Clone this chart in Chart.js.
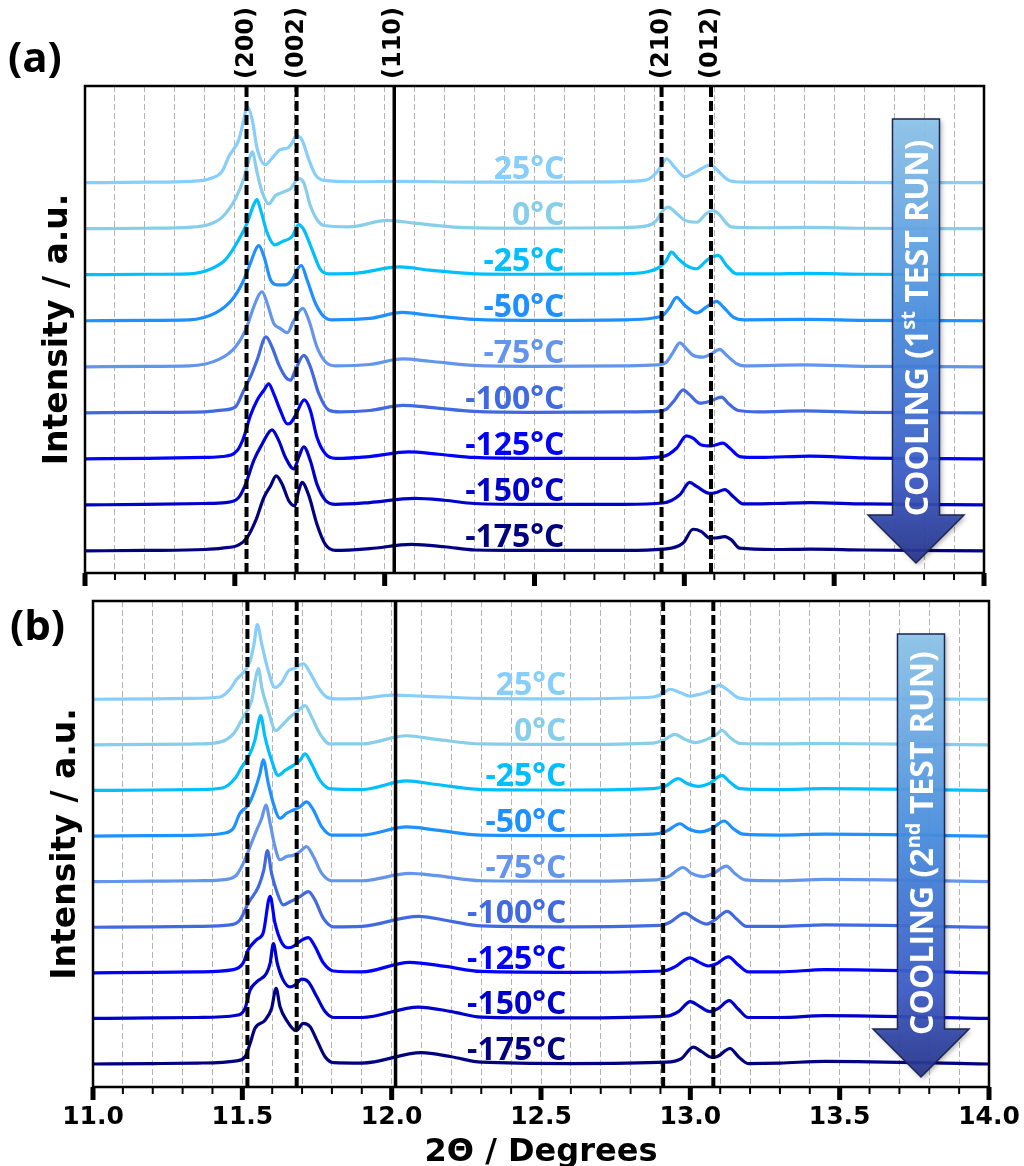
<!DOCTYPE html>
<html>
<head>
<meta charset="utf-8">
<script src="https://cdn.jsdelivr.net/npm/chart.js@4.4.1/dist/chart.umd.min.js"></script>
<style>
  body { margin: 0; background: #fff; }
  #wrap { position: relative; width: 1024px; height: 1166px; overflow: hidden; }
  canvas { position: absolute; left: 0; }
</style>
</head>
<body>
<div id="wrap">
  <canvas id="panelA" width="1024" height="590" style="top:0"></canvas>
  <canvas id="panelB" width="1024" height="576" style="top:590px"></canvas>
</div>
<script>
// labels, colours and reflections
const temps = ['25°C', '0°C', '-25°C', '-50°C', '-75°C', '-100°C', '-125°C', '-150°C', '-175°C'];
const lineColors = ['#87cefa', '#87ceeb', '#00bfff', '#1e90ff', '#6495ed', '#4169e1', '#0000ff', '#0000cd', '#000080'];
const hkl = ['(200)', '(002)', '(110)', '(210)', '(012)'];
const refsA = [11.539, 11.706, 12.032, 12.924, 13.089];
const refsB = [11.517, 11.682, 12.013, 12.909, 13.077];

// 1st test run: [2theta, intensity above its own baseline]
const a25 = [[11.0,0],[11.2,0.01],[11.35,0.03],[11.413,0.08],[11.458,0.25],[11.48,0.57],[11.513,0.93],[11.53,1.37],[11.541,1.66],[11.558,1.37],[11.574,0.75],[11.602,0.39],[11.625,0.54],[11.652,0.72],[11.675,0.75],[11.691,0.86],[11.704,1.02],[11.724,0.93],[11.747,0.50],[11.769,0.17],[11.797,0.05],[11.9,0.02],[12.05,0.03],[12.3,0.01],[12.6,0.01],[12.78,0.02],[12.874,0.06],[12.907,0.22],[12.929,0.43],[12.94,0.52],[12.968,0.33],[13.002,0.13],[13.035,0.22],[13.074,0.36],[13.09,0.38],[13.107,0.29],[13.152,0.04],[13.2,0.01],[13.4,0.01],[13.7,0.0],[14.0,0.0]];
const a0 = [[11.0,0],[11.2,0.01],[11.35,0.03],[11.413,0.09],[11.458,0.25],[11.502,0.65],[11.53,1.09],[11.547,1.49],[11.558,1.67],[11.574,1.23],[11.591,0.80],[11.613,0.54],[11.636,0.72],[11.663,0.80],[11.686,0.87],[11.713,1.09],[11.73,1.0],[11.752,0.5],[11.774,0.2],[11.797,0.07],[11.88,0.04],[12.01,0.18],[12.1,0.12],[12.25,0.03],[12.5,0.01],[12.78,0.02],[12.874,0.06],[12.907,0.18],[12.924,0.36],[12.946,0.47],[12.974,0.33],[13.002,0.18],[13.041,0.14],[13.074,0.33],[13.096,0.40],[13.113,0.33],[13.157,0.04],[13.25,0.02],[13.4,0.03],[13.6,0.01],[14.0,0.0]];
const aM25 = [[11.0,0],[11.2,0.01],[11.347,0.02],[11.413,0.11],[11.469,0.33],[11.513,0.76],[11.541,1.12],[11.563,1.52],[11.574,1.63],[11.586,1.41],[11.608,0.91],[11.633,0.65],[11.658,0.72],[11.691,0.83],[11.713,1.09],[11.73,0.98],[11.758,0.54],[11.786,0.11],[11.813,0.02],[11.9,0.03],[12.05,0.17],[12.15,0.10],[12.3,0.02],[12.5,0.01],[12.78,0.02],[12.874,0.06],[12.918,0.17],[12.94,0.31],[12.957,0.49],[12.979,0.35],[13.007,0.20],[13.041,0.13],[13.074,0.31],[13.09,0.38],[13.113,0.42],[13.141,0.20],[13.174,0.02],[13.3,0.02],[13.4,0.03],[13.6,0.01],[14.0,0.0]];
const aM50 = [[11.0,0],[11.2,0.01],[11.347,0.02],[11.436,0.17],[11.491,0.46],[11.525,0.82],[11.552,1.25],[11.569,1.54],[11.58,1.63],[11.597,1.40],[11.619,0.89],[11.641,0.78],[11.669,0.78],[11.691,0.89],[11.708,1.11],[11.722,1.20],[11.741,0.89],[11.769,0.38],[11.797,0.09],[11.825,0.02],[11.95,0.05],[12.06,0.18],[12.15,0.12],[12.3,0.03],[12.5,0.01],[12.8,0.02],[12.896,0.06],[12.929,0.12],[12.952,0.30],[12.974,0.51],[13.002,0.33],[13.041,0.17],[13.074,0.30],[13.107,0.42],[13.13,0.30],[13.163,0.08],[13.2,0.02],[13.4,0.03],[13.6,0.01],[14.0,0.0]];
const aM75 = [[11.0,0],[11.2,0.01],[11.347,0.02],[11.447,0.16],[11.502,0.43],[11.536,0.80],[11.563,1.30],[11.58,1.56],[11.591,1.63],[11.608,1.38],[11.63,0.94],[11.652,0.83],[11.675,0.74],[11.697,1.01],[11.727,1.27],[11.747,1.01],[11.774,0.43],[11.802,0.11],[11.836,0.02],[11.95,0.05],[12.06,0.17],[12.15,0.12],[12.3,0.03],[12.5,0.01],[12.8,0.02],[12.907,0.04],[12.94,0.10],[12.963,0.32],[12.985,0.52],[13.007,0.39],[13.029,0.25],[13.063,0.21],[13.09,0.28],[13.118,0.38],[13.141,0.25],[13.174,0.07],[13.2,0.02],[13.4,0.04],[13.6,0.01],[14.0,0.0]];
const aM100 = [[11.0,0],[11.2,0.01],[11.4,0.02],[11.458,0.06],[11.502,0.13],[11.53,0.49],[11.552,0.78],[11.574,1.14],[11.604,1.65],[11.624,1.43],[11.647,1.04],[11.669,0.78],[11.686,0.71],[11.702,0.93],[11.73,1.25],[11.752,1.0],[11.78,0.42],[11.813,0.06],[11.85,0.02],[11.95,0.05],[12.06,0.16],[12.15,0.12],[12.3,0.03],[12.5,0.01],[12.8,0.02],[12.907,0.03],[12.94,0.08],[12.968,0.28],[12.996,0.50],[13.018,0.39],[13.052,0.21],[13.085,0.25],[13.124,0.34],[13.146,0.21],[13.18,0.05],[13.25,0.02],[13.4,0.04],[13.6,0.01],[14.0,0.0]];
const aM125 = [[11.0,0],[11.2,0.01],[11.4,0.03],[11.458,0.05],[11.508,0.18],[11.53,0.47],[11.552,0.94],[11.574,1.27],[11.597,1.49],[11.613,1.63],[11.63,1.41],[11.652,1.05],[11.675,0.76],[11.686,0.78],[11.702,0.94],[11.732,1.28],[11.752,1.05],[11.774,0.47],[11.802,0.11],[11.836,0.01],[11.95,0.05],[12.08,0.15],[12.18,0.10],[12.3,0.03],[12.5,0.01],[12.8,0.01],[12.929,0.05],[12.974,0.23],[13.007,0.50],[13.029,0.45],[13.057,0.30],[13.09,0.28],[13.129,0.34],[13.152,0.23],[13.185,0.05],[13.25,0.03],[13.42,0.06],[13.6,0.02],[14.0,0.0]];
const aM150 = [[11.0,0],[11.2,0.01],[11.4,0.03],[11.469,0.05],[11.513,0.16],[11.536,0.45],[11.563,0.96],[11.591,1.32],[11.624,1.63],[11.647,1.39],[11.669,1.03],[11.697,0.78],[11.713,1.03],[11.73,1.26],[11.752,0.96],[11.774,0.45],[11.802,0.10],[11.836,0.01],[11.95,0.05],[12.1,0.14],[12.2,0.10],[12.3,0.03],[12.5,0.01],[12.8,0.01],[12.929,0.04],[12.985,0.22],[13.018,0.49],[13.041,0.40],[13.085,0.25],[13.107,0.27],[13.135,0.33],[13.163,0.18],[13.196,0.02],[13.3,0.03],[13.42,0.05],[13.6,0.02],[14.0,0.0]];
const aM175 = [[11.0,0],[11.2,0.01],[11.4,0.03],[11.458,0.06],[11.513,0.13],[11.541,0.29],[11.569,0.65],[11.597,1.16],[11.619,1.41],[11.638,1.63],[11.658,1.45],[11.68,1.09],[11.7,0.98],[11.713,1.30],[11.724,1.49],[11.747,1.20],[11.774,0.58],[11.802,0.14],[11.836,0.01],[11.95,0.05],[12.09,0.14],[12.2,0.09],[12.3,0.02],[12.5,0.01],[12.8,0.01],[12.929,0.04],[12.996,0.17],[13.029,0.47],[13.057,0.42],[13.085,0.28],[13.102,0.28],[13.135,0.31],[13.157,0.24],[13.185,0.06],[13.3,0.03],[13.42,0.04],[13.6,0.02],[14.0,0.0]];

// 2nd test run
const b25 = [[11.0,0],[11.2,0.01],[11.325,0.02],[11.425,0.05],[11.459,0.22],[11.481,0.44],[11.503,0.58],[11.526,0.84],[11.539,1.21],[11.55,1.64],[11.565,1.21],[11.587,0.62],[11.609,0.26],[11.632,0.37],[11.654,0.62],[11.676,0.68],[11.704,0.78],[11.727,0.58],[11.754,0.26],[11.782,0.05],[11.816,0.01],[11.9,0.02],[12.0,0.09],[12.1,0.07],[12.3,0.02],[12.6,0.01],[12.876,0.05],[12.904,0.11],[12.932,0.22],[12.965,0.15],[12.999,0.07],[13.032,0.11],[13.066,0.18],[13.097,0.31],[13.122,0.22],[13.155,0.05],[13.2,0.0],[13.45,0.01],[14.0,0.0]];
const b0 = [[11.0,0],[11.2,0.01],[11.35,0.02],[11.425,0.06],[11.47,0.24],[11.503,0.61],[11.531,0.97],[11.545,1.48],[11.554,1.67],[11.565,1.26],[11.587,0.75],[11.612,0.31],[11.632,0.42],[11.66,0.61],[11.687,0.75],[11.71,0.86],[11.732,0.61],[11.76,0.24],[11.793,0.02],[11.9,0.02],[12.05,0.20],[12.15,0.12],[12.3,0.02],[12.6,0.01],[12.876,0.04],[12.909,0.10],[12.948,0.23],[12.982,0.12],[13.015,0.05],[13.055,0.12],[13.088,0.23],[13.105,0.32],[13.133,0.16],[13.166,0.03],[13.3,0.02],[13.45,0.03],[14.0,0.0]];
const bM25 = [[11.0,0],[11.2,0.01],[11.35,0.02],[11.436,0.06],[11.475,0.26],[11.498,0.51],[11.52,0.73],[11.542,1.10],[11.553,1.46],[11.561,1.64],[11.576,1.17],[11.598,0.66],[11.62,0.33],[11.643,0.44],[11.671,0.55],[11.693,0.66],[11.71,0.80],[11.732,0.58],[11.76,0.22],[11.793,0.04],[11.9,0.02],[12.05,0.21],[12.15,0.13],[12.3,0.02],[12.6,0.01],[12.876,0.04],[12.915,0.09],[12.96,0.26],[12.987,0.16],[13.027,0.09],[13.066,0.16],[13.105,0.33],[13.133,0.18],[13.166,0.04],[13.3,0.02],[13.45,0.04],[14.0,0.0]];
const bM50 = [[11.0,0],[11.2,0.01],[11.35,0.02],[11.436,0.06],[11.47,0.17],[11.492,0.50],[11.52,0.68],[11.542,1.01],[11.559,1.37],[11.57,1.67],[11.587,1.15],[11.604,0.71],[11.626,0.39],[11.648,0.50],[11.671,0.57],[11.693,0.64],[11.715,0.75],[11.738,0.57],[11.766,0.20],[11.799,0.02],[11.9,0.02],[12.05,0.20],[12.15,0.13],[12.3,0.02],[12.6,0.01],[12.876,0.04],[12.921,0.11],[12.965,0.27],[12.993,0.16],[13.032,0.09],[13.071,0.16],[13.113,0.33],[13.144,0.16],[13.177,0.04],[13.3,0.02],[13.45,0.04],[14.0,0.0]];
const bM75 = [[11.0,0],[11.2,0.01],[11.35,0.02],[11.447,0.05],[11.481,0.15],[11.503,0.40],[11.526,0.77],[11.548,1.13],[11.565,1.39],[11.579,1.68],[11.593,1.28],[11.609,0.77],[11.626,0.48],[11.648,0.55],[11.671,0.58],[11.693,0.66],[11.715,0.77],[11.738,0.55],[11.766,0.18],[11.799,0.02],[11.9,0.02],[12.06,0.18],[12.15,0.13],[12.3,0.02],[12.6,0.01],[12.887,0.04],[12.926,0.11],[12.976,0.31],[13.004,0.18],[13.043,0.11],[13.077,0.18],[13.121,0.34],[13.149,0.18],[13.183,0.04],[13.3,0.02],[13.45,0.05],[14.0,0.0]];
const bM100 = [[11.0,0],[11.2,0.01],[11.35,0.02],[11.459,0.05],[11.492,0.16],[11.52,0.53],[11.554,0.89],[11.572,1.26],[11.584,1.68],[11.598,1.18],[11.617,0.75],[11.637,0.49],[11.66,0.56],[11.693,0.67],[11.721,0.78],[11.743,0.60],[11.771,0.20],[11.805,0.01],[11.9,0.02],[12.09,0.24],[12.2,0.13],[12.3,0.03],[12.6,0.01],[12.898,0.04],[12.932,0.11],[12.982,0.31],[13.015,0.18],[13.055,0.07],[13.082,0.16],[13.124,0.35],[13.155,0.18],[13.188,0.02],[13.3,0.02],[13.45,0.05],[14.0,0.0]];
const bM125 = [[11.0,0],[11.2,0.01],[11.35,0.02],[11.47,0.07],[11.503,0.22],[11.52,0.51],[11.548,0.73],[11.57,0.88],[11.593,1.68],[11.609,1.10],[11.632,0.66],[11.654,0.55],[11.671,0.58],[11.693,0.69],[11.721,0.77],[11.743,0.58],[11.771,0.22],[11.805,0.04],[11.9,0.02],[12.06,0.23],[12.18,0.14],[12.3,0.03],[12.6,0.01],[12.909,0.04],[12.948,0.13],[12.999,0.33],[13.027,0.24],[13.06,0.15],[13.088,0.20],[13.127,0.35],[13.161,0.17],[13.194,0.02],[13.3,0.02],[13.45,0.07],[14.0,0.0]];
const bM150 = [[11.0,0],[11.2,0.01],[11.35,0.02],[11.481,0.07],[11.509,0.22],[11.526,0.62],[11.548,0.80],[11.581,0.99],[11.593,1.21],[11.604,1.64],[11.617,1.21],[11.637,0.84],[11.66,0.69],[11.676,0.73],[11.699,0.86],[11.721,0.80],[11.749,0.48],[11.777,0.15],[11.805,0.02],[11.9,0.02],[12.09,0.25],[12.2,0.15],[12.3,0.03],[12.6,0.01],[12.92,0.05],[12.96,0.15],[13.0,0.37],[13.032,0.26],[13.066,0.15],[13.094,0.22],[13.13,0.39],[13.161,0.20],[13.194,0.02],[13.3,0.02],[13.45,0.06],[14.0,0.0]];
const bM175 = [[11.0,0],[11.2,0.01],[11.35,0.02],[11.481,0.07],[11.509,0.16],[11.526,0.45],[11.542,0.78],[11.576,0.96],[11.598,1.22],[11.613,1.66],[11.626,1.26],[11.648,0.96],[11.68,0.73],[11.704,0.89],[11.727,0.82],[11.749,0.53],[11.777,0.16],[11.805,0.03],[11.9,0.02],[12.1,0.25],[12.2,0.16],[12.3,0.04],[12.6,0.01],[12.92,0.04],[12.97,0.12],[13.01,0.37],[13.038,0.27],[13.071,0.15],[13.088,0.16],[13.133,0.34],[13.161,0.16],[13.194,0.01],[13.3,0.02],[13.45,0.06],[14.0,0.0]];

const runA = [a25, a0, aM25, aM50, aM75, aM100, aM125, aM150, aM175];
const runB = [b25, b0, bM25, bM50, bM75, bM100, bM125, bM150, bM175];

// draws frame, tick marks, labels, arrow
const decor = {
  id: 'decor',
  afterDatasetsDraw(chart, args, o) {
    const ctx = chart.ctx, a = chart.chartArea, xs = chart.scales.x, ys = chart.scales.y;
    ctx.save();
    ctx.font = 'bold 32px "Open Sans"';
    ctx.textAlign = 'right';
    ctx.textBaseline = 'alphabetic';
    temps.forEach((t, i) => {
      ctx.fillStyle = lineColors[i];
      ctx.fillText(t, xs.getPixelForValue(o.labelAt), ys.getPixelForValue(temps.length - 1 - i) - 4);
    });

    // cooling arrow
    const cx = a.right - 68, top = a.top + 33, neck = a.bottom - 58, tip = a.bottom - 10;
    ctx.beginPath();
    ctx.moveTo(cx - 23.5, top);
    ctx.lineTo(cx + 23.5, top);
    ctx.lineTo(cx + 23.5, neck);
    ctx.lineTo(cx + 48, neck);
    ctx.lineTo(cx, tip);
    ctx.lineTo(cx - 48, neck);
    ctx.lineTo(cx - 23.5, neck);
    ctx.closePath();
    const g = ctx.createLinearGradient(0, top, 0, tip);
    g.addColorStop(0, 'rgba(142,198,236,0.92)');
    g.addColorStop(0.45, 'rgba(74,144,226,0.92)');
    g.addColorStop(0.8, 'rgba(60,92,200,0.92)');
    g.addColorStop(1, 'rgba(38,52,140,0.92)');
    ctx.shadowColor = 'rgba(0,0,0,0.35)';
    ctx.shadowBlur = 5;
    ctx.shadowOffsetX = 2;
    ctx.shadowOffsetY = 2;
    ctx.fillStyle = g;
    ctx.fill();
    ctx.shadowColor = 'transparent';
    ctx.strokeStyle = '#1c2650';
    ctx.lineWidth = 1.5;
    ctx.stroke();

    ctx.translate(cx, a.top + 242);
    ctx.rotate(-Math.PI / 2);
    ctx.fillStyle = '#fff';
    ctx.textAlign = 'left';
    const parts = [['COOLING (' + o.runNo, 32, 0], [o.sup, 20, -13], [' TEST RUN)', 32, 0]];
    let total = 0;
    parts.forEach(p => { ctx.font = 'bold ' + p[1] + 'px "Open Sans"'; total += ctx.measureText(p[0]).width; });
    let pos = -total / 2;
    parts.forEach(p => {
      ctx.font = 'bold ' + p[1] + 'px "Open Sans"';
      ctx.fillText(p[0], pos, 11.5 + p[2]);
      pos += ctx.measureText(p[0]).width;
    });
    ctx.restore();
  },
  afterDraw(chart, args, o) {
    const ctx = chart.ctx, a = chart.chartArea, xs = chart.scales.x;
    ctx.save();
    ctx.strokeStyle = '#000';
    ctx.lineWidth = 2.5;
    ctx.strokeRect(a.left, a.top, a.right - a.left, a.bottom - a.top);

    ctx.fillStyle = '#000';
    xs.ticks.forEach(t => {
      const px = xs.getPixelForValue(t.value);
      const major = Math.abs(t.value * 2 - Math.round(t.value * 2)) < 1e-6;
      if (major) ctx.fillRect(px - 2.5, a.bottom, 5, 13);
      else ctx.fillRect(px - 1, a.bottom, 2, 7);
    });

    if (o.tickLabels) {
      ctx.font = 'bold 25px "DejaVu Sans"';
      ctx.textAlign = 'center';
      ctx.textBaseline = 'middle';
      xs.ticks.forEach(t => {
        if (Math.abs(t.value * 2 - Math.round(t.value * 2)) < 1e-6) {
          ctx.fillText(t.value.toFixed(1), xs.getPixelForValue(t.value), a.bottom + 30);
        }
      });
      ctx.font = 'bold 32px "DejaVu Sans"';
      ctx.textBaseline = 'alphabetic';
      ctx.fillText('2Θ / Degrees', (a.left + a.right) / 2, a.bottom + 74);
    }

    if (o.hklLabels) {
      ctx.font = 'bold 24px "DejaVu Sans"';
      ctx.textAlign = 'left';
      ctx.textBaseline = 'middle';
      o.refs.forEach((r, i) => {
        ctx.save();
        ctx.translate(xs.getPixelForValue(r), a.top - 7);
        ctx.rotate(-Math.PI / 2);
        ctx.fillText(hkl[i], 0, 0);
        ctx.restore();
      });
    }

    // y title
    ctx.save();
    ctx.font = 'bold 33px "DejaVu Sans"';
    ctx.textAlign = 'center';
    ctx.textBaseline = 'alphabetic';
    ctx.translate(a.left - 18, (a.top + a.bottom) / 2);
    ctx.rotate(-Math.PI / 2);
    ctx.fillText('Intensity / a.u.', 0, 0);
    ctx.restore();

    ctx.font = 'bold 42px "Open Sans"';
    ctx.textAlign = 'left';
    ctx.textBaseline = 'alphabetic';
    ctx.fillText(o.panel, o.panelX, o.panelY);
    ctx.restore();
  }
};

function makePanel(id, run, refs, yMin, yMax, padding, opts) {
  const datasets = [];
  refs.forEach((r, i) => {
    datasets.push({
      data: [{x: r, y: yMin}, {x: r, y: yMax}],
      borderColor: '#000',
      borderWidth: hkl[i] === '(110)' ? 3.5 : 4,
      borderDash: hkl[i] === '(110)' ? [] : [10, 4],
      pointRadius: 0,
      tension: 0
    });
  });
  for (let i = run.length - 1; i >= 0; i--) {
    const offset = run.length - 1 - i;
    datasets.push({
      label: temps[i],
      data: run[i].map(p => ({x: p[0], y: p[1] + offset})),
      borderColor: lineColors[i],
      borderWidth: 3.2,
      pointRadius: 0,
      cubicInterpolationMode: 'monotone'
    });
  }
  return new Chart(document.getElementById(id), {
    type: 'line',
    data: {datasets: datasets},
    plugins: [decor],
    options: {
      responsive: false,
      animation: false,
      devicePixelRatio: 1,
      layout: {padding: padding},
      plugins: {
        legend: {display: false},
        tooltip: {enabled: false},
        decor: Object.assign({refs: refs}, opts)
      },
      scales: {
        x: {
          type: 'linear',
          min: 11,
          max: 14,
          ticks: {display: false, stepSize: 0.1},
          grid: {color: '#b3b3b3', lineWidth: 1, drawTicks: false},
          border: {display: false, dash: [6, 3]}
        },
        y: {
          type: 'linear',
          display: false,
          min: yMin,
          max: yMax
        }
      }
    }
  });
}

makePanel('panelA', runA, refsA, -0.48, 10.1,
  {left: 85, right: 40, top: 86, bottom: 17},
  {labelAt: 12.6, runNo: '1', sup: 'st', tickLabels: false, hklLabels: true, panel: '(a)', panelX: 8, panelY: 72});
makePanel('panelB', runB, refsB, -0.504, 10.155,
  {left: 93, right: 35, top: 11, bottom: 79},
  {labelAt: 12.585, runNo: '2', sup: 'nd', tickLabels: true, hklLabels: false, panel: '(b)', panelX: 10, panelY: 50});
</script>
</body>
</html>
